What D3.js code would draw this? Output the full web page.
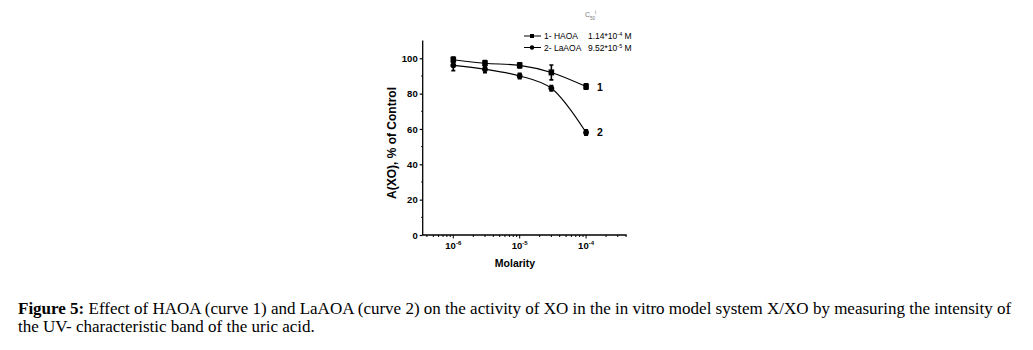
<!DOCTYPE html>
<html><head><meta charset="utf-8">
<script src="https://cdn.jsdelivr.net/npm/d3@7"></script>
<style>
html,body{margin:0;padding:0;background:#fff;}
svg{display:block;}
</style></head>
<body>
<svg id="chart" width="1033" height="350"></svg>
<script>
// ---- data ----
const molarity = [1e-6, 3e-6, 1e-5, 3e-5, 1e-4];
const haoaValues = [99.2, 97.2, 96, 92, 84];
const haoaErrors = [1.5, 1.5, 1.5, 4.2, 1.5];
const laaoaValues = [96, 93.8, 90, 83, 58];
const laaoaErrors = [3, 2, 1.5, 1.5, 1.5];
const yTicks = [0, 20, 40, 60, 80, 100];
const xTicks = [1e-6, 1e-5, 1e-4];
const xTickExps = ["-6", "-5", "-4"];
const seriesNames = ["1- HAOA", "2- LaAOA"];
const seriesC50 = [["1.14*10", "-4", " M"], ["9.52*10", "-5", " M"]];
const curveLabels = ["1", "2"];

const svg = d3.select("#chart");
const x = d3.scaleLog().domain([Math.pow(10, -6.461), Math.pow(10, -3.388)]).range([422.7, 626.7]);
const y = d3.scaleLinear().domain([0, 110]).range([235, 40.6]);
const axisFont = "Liberation Sans, Arial, sans-serif";

// Y axis
const yAxis = d3.axisLeft(y).tickValues(yTicks).tickSize(3).tickSizeOuter(0).tickPadding(2);
const gy = svg.append("g").attr("transform", `translate(${x.range()[0]},0)`).call(yAxis);
gy.select(".domain").attr("stroke", "#000").attr("stroke-width", 1.3).attr("d", `M0,${y(0)}V${y.range()[1]}`);
gy.selectAll(".tick line").attr("stroke-width", 1.2);
gy.selectAll(".tick text").attr("font-family", axisFont).attr("font-weight", "bold").attr("font-size", 9.5).attr("fill", "#000");
// y minor ticks
svg.append("g").selectAll("line").data(d3.range(10, 110, 20)).join("line")
  .attr("x1", x.range()[0] - 1.5).attr("x2", x.range()[0]).attr("y1", d => y(d)).attr("y2", d => y(d))
  .attr("stroke", "#000").attr("stroke-width", 1);

// X axis
const gx = svg.append("g").attr("transform", `translate(0,${y(0)})`);
gx.append("line").attr("x1", x.range()[0]).attr("x2", x.range()[1]).attr("stroke", "#000").attr("stroke-width", 1.3);
const minorX = [];
for (let e = -7; e <= -4; e++) for (let m = 1; m <= 9; m++) {
  const v = m * Math.pow(10, e);
  if (v >= x.domain()[0] && v <= x.domain()[1]) minorX.push(v);
}
gx.selectAll("line.minor").data(minorX).join("line").attr("class", "minor")
  .attr("x1", d => x(d)).attr("x2", d => x(d)).attr("y1", 0)
  .attr("y2", d => xTicks.some(t => Math.abs(t - d) / t < 1e-6) ? 3.5 : 2)
  .attr("stroke", "#000").attr("stroke-width", 1);
const xt = gx.selectAll("text.xt").data(xTicks).join("text").attr("class", "xt")
  .attr("x", d => x(d)).attr("y", 14).attr("text-anchor", "middle")
  .attr("font-family", axisFont).attr("font-weight", "bold").attr("font-size", 9.5).attr("fill", "#000");
xt.append("tspan").text("10");
xt.append("tspan").attr("dy", -4).attr("font-size", 6).text((d, i) => xTickExps[i]);

// axis titles
svg.append("text").attr("x", 515).attr("y", 267).attr("text-anchor", "middle")
  .attr("font-family", axisFont).attr("font-weight", "bold").attr("font-size", 10.5).text("Molarity");
svg.append("text").attr("transform", `translate(396,143) rotate(-90)`).attr("text-anchor", "middle")
  .attr("font-family", axisFont).attr("font-weight", "bold").attr("font-size", 12).text("A(XO), % of Control");

// series
const series = [
  {vals: haoaValues, errs: haoaErrors, shape: "square"},
  {vals: laaoaValues, errs: laaoaErrors, shape: "circle"}
];
const line = d3.line().x(d => x(d[0])).y(d => y(d[1])).curve(d3.curveCatmullRom.alpha(0.5));
series.forEach((s, si) => {
  const pts = molarity.map((m, i) => [m, s.vals[i], s.errs[i]]);
  const g = svg.append("g");
  g.append("path").attr("d", line(pts)).attr("fill", "none").attr("stroke", "#000").attr("stroke-width", 1.1);
  g.selectAll("path.err").data(pts).join("path").attr("class", "err")
    .attr("d", d => `M${x(d[0]) - 2},${y(d[1] + d[2])}H${x(d[0]) + 2}M${x(d[0])},${y(d[1] + d[2])}V${y(d[1] - d[2])}M${x(d[0]) - 2},${y(d[1] - d[2])}H${x(d[0]) + 2}`)
    .attr("stroke", "#000").attr("stroke-width", 1.6).attr("fill", "none");
  if (s.shape === "square") {
    g.selectAll("rect").data(pts).join("rect")
      .attr("x", d => x(d[0]) - 2.8).attr("y", d => y(d[1]) - 3).attr("width", 5.6).attr("height", 6).attr("fill", "#000");
  } else {
    g.selectAll("circle").data(pts).join("circle")
      .attr("cx", d => x(d[0])).attr("cy", d => y(d[1])).attr("r", 2.9).attr("fill", "#000");
  }
  const last = pts[pts.length - 1];
  svg.append("text").attr("x", x(last[0]) + 11).attr("y", y(last[1]) + 4)
    .attr("font-family", axisFont).attr("font-weight", "bold").attr("font-size", 10.5).text(curveLabels[si]);
});

// legend
const lg = svg.append("g");
const c50 = lg.append("text").attr("x", 585).attr("y", 17).attr("font-family", axisFont).attr("font-size", 7).attr("fill", "#777");
c50.append("tspan").text("C");
c50.append("tspan").attr("dy", 2.5).attr("font-size", 4.5).text("50");
c50.append("tspan").attr("dy", -6).attr("font-size", 5).text("i");
series.forEach((s, i) => {
  const ly = 36 + i * 11.5;
  lg.append("line").attr("x1", 524).attr("x2", 541).attr("y1", ly).attr("y2", ly).attr("stroke", "#000").attr("stroke-width", 1);
  if (s.shape === "square") lg.append("rect").attr("x", 530).attr("y", ly - 2).attr("width", 4).attr("height", 4);
  else lg.append("circle").attr("cx", 532).attr("cy", ly).attr("r", 2.2);
  lg.append("text").attr("x", 544).attr("y", ly + 3).attr("font-family", axisFont).attr("font-size", 8.5).text(seriesNames[i]);
  const t = lg.append("text").attr("x", 588).attr("y", ly + 3).attr("font-family", axisFont).attr("font-size", 8.5);
  t.append("tspan").text(seriesC50[i][0]);
  t.append("tspan").attr("dy", -3).attr("font-size", 5.5).text(seriesC50[i][1]);
  t.append("tspan").attr("dy", 3).text(seriesC50[i][2]);
});

// caption
const capFont = "Liberation Serif, 'Times New Roman', serif";
const c1 = svg.append("text").attr("x", 18).attr("y", 314).attr("font-family", capFont).attr("font-size", 17);
c1.append("tspan").attr("font-weight", "bold").text("Figure 5:");
c1.append("tspan").text(" Effect of HAOA (curve 1) and LaAOA (curve 2) on the activity of XO in the in vitro model system X/XO by measuring the intensity of");
svg.append("text").attr("x", 18).attr("y", 331.5).attr("font-family", capFont).attr("font-size", 17)
  .text("the UV- characteristic band of the uric acid.");
</script>
</body></html>
